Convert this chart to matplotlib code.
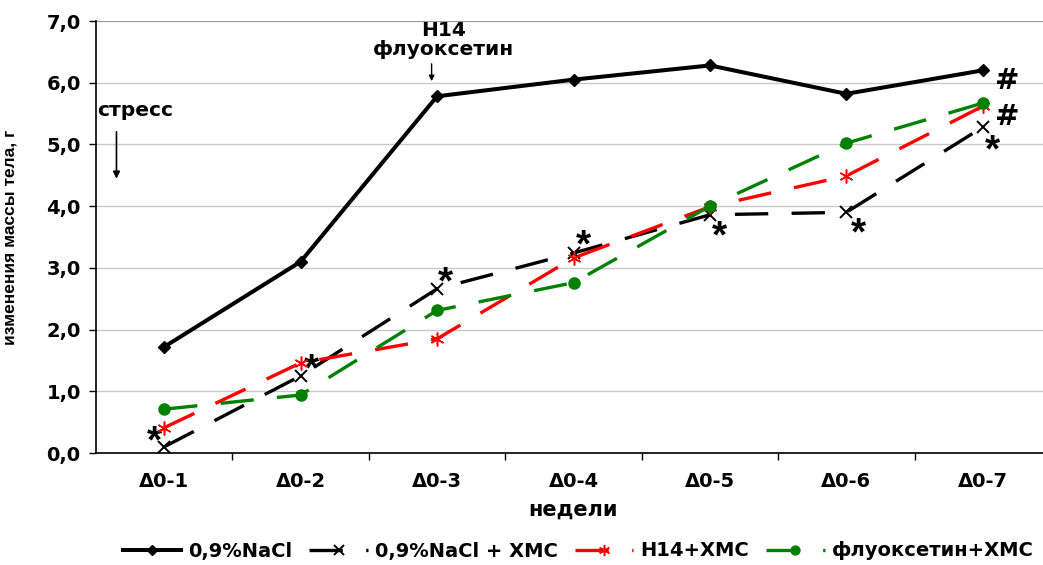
import matplotlib
matplotlib.use("Agg")
import matplotlib.pyplot as plt
import numpy as np

categories = ["Δ0-1", "Δ0-2", "Δ0-3", "Δ0-4", "Δ0-5", "Δ0-6", "Δ0-7"]
nacl = [1.72, 3.10, 5.78, 6.05, 6.28, 5.82, 6.20]
nacl_hms = [0.10, 1.25, 2.66, 3.24, 3.86, 3.90, 5.28]
h14_hms = [0.41, 1.46, 1.85, 3.16, 3.99, 4.49, 5.62]
flu_hms = [0.71, 0.94, 2.31, 2.76, 4.00, 5.02, 5.67]
labels = ["0,9%NaCl", "0,9%NaCl + ХМС", "Н14+ХМС", "флуоксетин+ХМС"]
yticks = [0, 1, 2, 3, 4, 5, 6, 7]
ytick_labels = ["0,0", "1,0", "2,0", "3,0", "4,0", "5,0", "6,0", "7,0"]

plt.rcParams['font.family'] = ['DejaVu Sans']
plt.rcParams['font.weight'] = 'bold'

fig = plt.figure(figsize=(10.43, 5.65), dpi=100)
ax = fig.add_axes([96/1043, 112/565, 955/1043, 432/565])
x = np.arange(1, len(categories) + 1)

dash = (0, (10, 7))
ax.plot(x, nacl, color='black', lw=2.9, marker='D', ms=6.5, label=labels[0], zorder=5)
ax.plot(x, nacl_hms, color='black', lw=2.4, ls=dash, marker='x', ms=9, mew=1.4, label=labels[1], zorder=4)
ax.plot(x, h14_hms, color='#ff0000', lw=2.4, ls=dash, marker=(6, 2, 0), ms=10, mew=1.1, label=labels[2], zorder=4)
ax.plot(x, flu_hms, color='#008000', lw=2.4, ls=dash, marker='o', ms=8, label=labels[3], zorder=4)

ax.set_xlim(0.5, 7.5)
ax.set_ylim(0, 7)
ax.set_yticks(yticks)
ax.set_yticklabels(ytick_labels, fontsize=14, fontweight='bold')
ax.set_xticks(x)
ax.set_xticklabels(categories, fontsize=14, fontweight='bold')
ax.tick_params(axis='x', which='major', length=0, pad=14)
ax.set_xticks(np.arange(1.5, 7.5, 1.0), minor=True)
ax.tick_params(axis='x', which='minor', length=5, width=1, direction='out')
ax.tick_params(axis='y', length=5, width=1, direction='out', pad=6)
ax.yaxis.grid(True, color='#c8c8c8', lw=1)
ax.set_axisbelow(True)
for s in ['top', 'right']:
    ax.spines[s].set_visible(False)
ax.spines['left'].set_linewidth(1.2)
ax.spines['bottom'].set_linewidth(1.2)
ax.axhline(7, color='#909090', lw=1.2, zorder=1)

ax.set_xlabel("недели", fontsize=15, fontweight='bold', labelpad=6)
ax.set_ylabel("изменения массы тела, г", fontsize=12.5, fontweight='bold',
              family=['Liberation Sans', 'DejaVu Sans'])
ax.yaxis.set_label_coords(-78/955, 0.5)

# significance marks
star_kw = dict(fontsize=28, fontweight='bold', ha='center', va='center', color='black',
               family=['Liberation Sans', 'DejaVu Sans'])
for (px, py) in [(0.93, 0.17), (2.08, 1.34), (3.06, 2.74), (4.07, 3.34), (5.07, 3.49), (6.09, 3.54), (7.07, 4.89)]:
    ax.text(px, py, "*", **star_kw)
ax.text(7.18, 6.02, "#", fontsize=21, fontweight='bold', ha='center', va='center')
ax.text(7.18, 5.45, "#", fontsize=21, fontweight='bold', ha='center', va='center')

ax.text(0.5 + 1/136.5, 5.55, "стресс", fontsize=14.5, fontweight='bold', ha='left', va='center')
ax.annotate("", xy=(0.65, 4.4), xytext=(0.65, 5.25),
            arrowprops=dict(arrowstyle='-|>', color='black', lw=1.2, mutation_scale=10))
ax.text(3.05, 6.7, "Н14\nфлуоксетин", fontsize=14.5, fontweight='bold', ha='center', va='center', linespacing=1.0)
ax.annotate("", xy=(2.96, 5.98), xytext=(2.96, 6.35),
            arrowprops=dict(arrowstyle='-|>', color='black', lw=1, mutation_scale=8))

leg = fig.legend(loc='center', bbox_to_anchor=(578/1043, 14/565), ncol=4, frameon=False,
                 prop={'weight': 'bold', 'size': 14}, handlelength=3.0, columnspacing=0.9,
                 handletextpad=0.35, markerscale=0.8)

fig.savefig("out.png", dpi=100)
